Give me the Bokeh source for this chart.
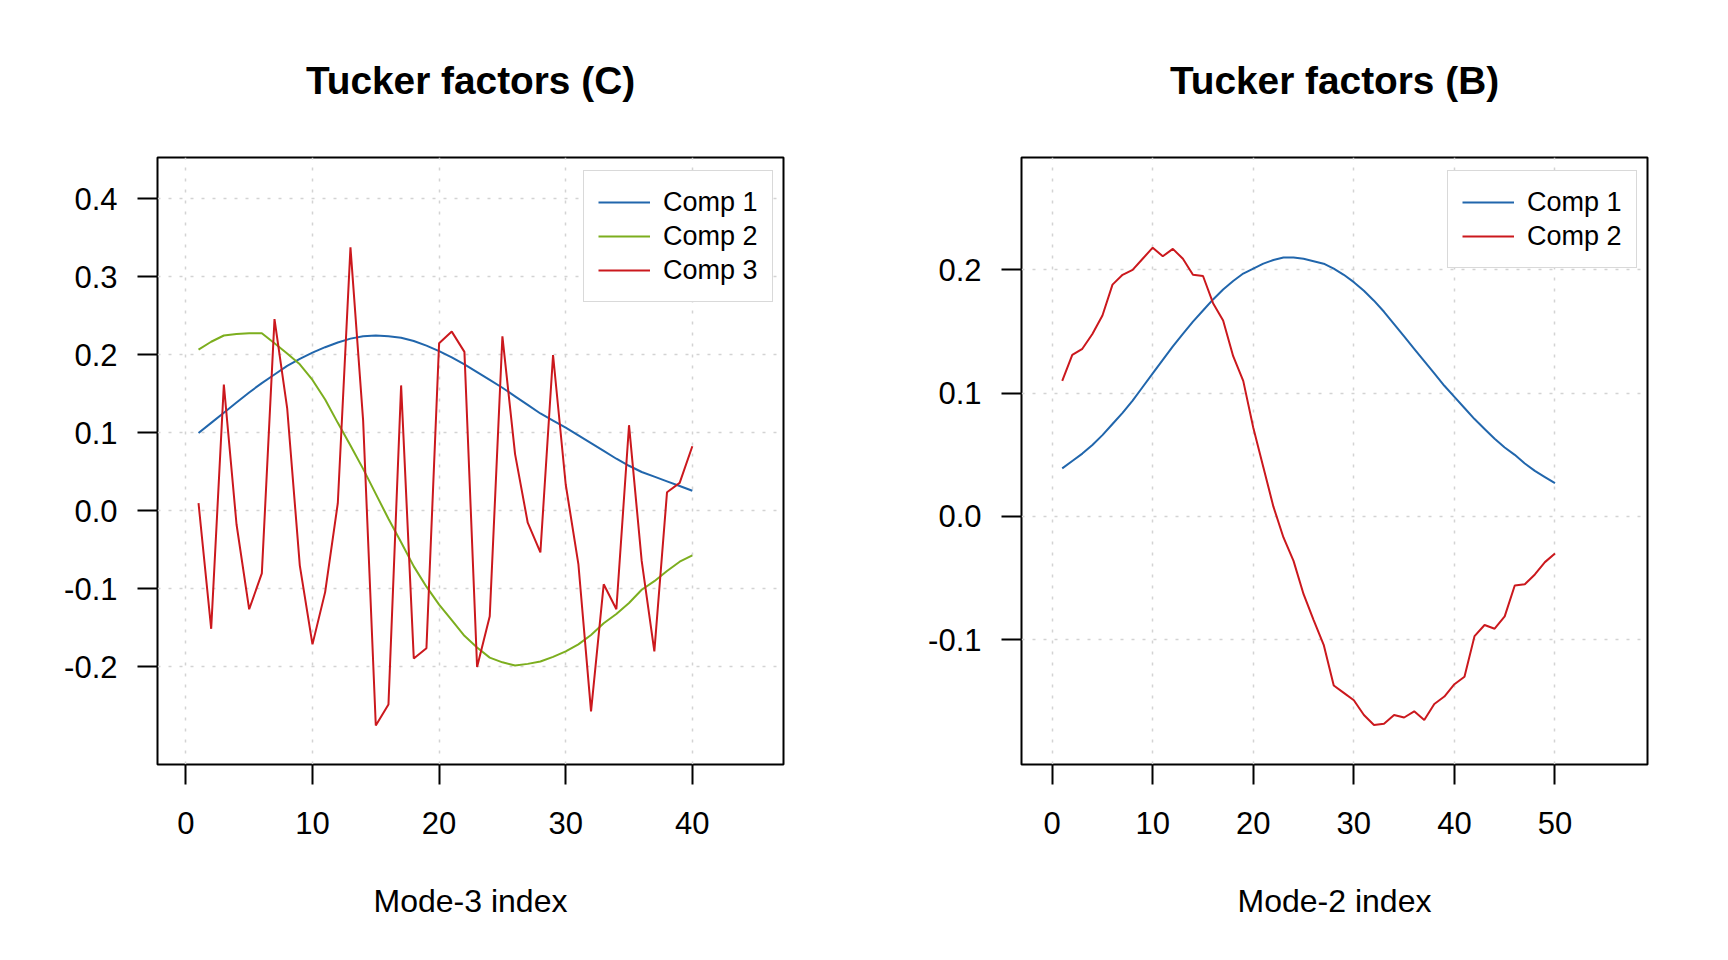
from bokeh.plotting import figure
from bokeh.layouts import row
from bokeh.models import Range1d, FixedTicker, NumeralTickFormatter, Legend, LegendItem
from bokeh.embed import file_html
from bokeh.resources import INLINE

FONT = "Liberation Sans"

# Tucker factor matrix C (mode-3, 40 rows, 3 components)
c_index = list(range(1, 41))
c_comp1 = [0.100, 0.113, 0.126, 0.139, 0.152, 0.164, 0.175, 0.186, 0.195, 0.203,
           0.210, 0.216, 0.221, 0.224, 0.225, 0.224, 0.222, 0.218, 0.212, 0.205,
           0.197, 0.188, 0.178, 0.168, 0.158, 0.147, 0.136, 0.125, 0.116, 0.107,
           0.097, 0.087, 0.077, 0.067, 0.058, 0.050, 0.044, 0.038, 0.032, 0.026]
c_comp2 = [0.207, 0.217, 0.225, 0.227, 0.228, 0.228, 0.215, 0.202, 0.188, 0.168,
           0.143, 0.113, 0.084, 0.054, 0.022, -0.010, -0.040, -0.071, -0.097, -0.120,
           -0.140, -0.160, -0.175, -0.188, -0.194, -0.198, -0.196, -0.193, -0.187, -0.180,
           -0.171, -0.159, -0.144, -0.132, -0.118, -0.101, -0.090, -0.077, -0.065, -0.057]
c_comp3 = [0.010, -0.151, 0.162, -0.017, -0.126, -0.080, 0.246, 0.132, -0.070, -0.171,
           -0.104, 0.010, 0.338, 0.116, -0.275, -0.248, 0.161, -0.189, -0.176, 0.215,
           0.230, 0.204, -0.200, -0.135, 0.224, 0.073, -0.015, -0.053, 0.200, 0.034,
           -0.068, -0.257, -0.094, -0.126, 0.110, -0.064, -0.180, 0.024, 0.036, 0.083]

# Tucker factor matrix B (mode-2, 50 rows, 2 components)
b_index = list(range(1, 51))
b_comp1 = [0.039, 0.045, 0.051, 0.058, 0.066, 0.075, 0.084, 0.094, 0.105, 0.116,
           0.127, 0.138, 0.148, 0.158, 0.167, 0.176, 0.184, 0.191, 0.197, 0.201,
           0.205, 0.208, 0.210, 0.210, 0.209, 0.207, 0.205, 0.201, 0.196, 0.190,
           0.183, 0.175, 0.166, 0.156, 0.146, 0.136, 0.126, 0.116, 0.106, 0.097,
           0.088, 0.079, 0.071, 0.063, 0.056, 0.050, 0.043, 0.037, 0.032, 0.027]
b_comp2 = [0.110, 0.131, 0.136, 0.148, 0.163, 0.188, 0.196, 0.200, 0.209, 0.218,
           0.211, 0.217, 0.209, 0.196, 0.195, 0.173, 0.159, 0.130, 0.110, 0.072,
           0.040, 0.008, -0.017, -0.036, -0.063, -0.084, -0.104, -0.137, -0.143, -0.149,
           -0.161, -0.169, -0.168, -0.161, -0.163, -0.158, -0.165, -0.152, -0.146, -0.136,
           -0.130, -0.097, -0.088, -0.091, -0.081, -0.056, -0.055, -0.047, -0.037, -0.030]

c_xticks = [0, 10, 20, 30, 40]
c_yticks = [-0.2, -0.1, 0.0, 0.1, 0.2, 0.3, 0.4]
b_xticks = [0, 10, 20, 30, 40, 50]
b_yticks = [-0.1, 0.0, 0.1, 0.2]

BLUE = "#2166ac"
GREEN = "#7cae1e"
RED = "#cb181d"


def panel(title, xlabel, xr, yr, xticks, yticks, left, right):
    p = figure(frame_width=626, frame_height=607,
               min_border_left=left, min_border_right=right,
               min_border_top=157, min_border_bottom=180,
               x_range=Range1d(*xr), y_range=Range1d(*yr),
               title=title, output_backend="svg", toolbar_location=None)
    p.title.align = "center"
    p.title.text_font = FONT
    p.title.text_font_size = "38.8px"
    p.title.text_font_style = "bold"
    p.title.text_color = "black"
    p.title.standoff = 112
    p.outline_line_color = "black"
    p.outline_line_width = 2
    p.outline_line_alpha = 1

    p.xaxis.ticker = FixedTicker(ticks=xticks)
    p.yaxis.ticker = FixedTicker(ticks=yticks)
    p.yaxis.formatter = NumeralTickFormatter(format="0.0")
    p.xaxis.axis_label = xlabel
    for ax in (p.xaxis, p.yaxis):
        ax.axis_line_color = None
        ax.major_tick_out = 20
        ax.major_tick_in = 0
        ax.major_tick_line_width = 2
        ax.major_tick_line_color = "black"
        ax.minor_tick_line_color = None
        ax.major_label_text_font = FONT
        ax.major_label_text_font_size = "31px"
        ax.major_label_text_color = "black"
        ax.major_label_standoff = 20
    p.xaxis.major_label_standoff = 27
    p.xaxis.axis_label_text_font = FONT
    p.xaxis.axis_label_text_font_size = "32px"
    p.xaxis.axis_label_text_font_style = "normal"
    p.xaxis.axis_label_text_color = "black"
    p.xaxis.axis_label_standoff = 46
    p.yaxis.major_label_orientation = "horizontal"

    for g in (p.xgrid, p.ygrid):
        g.grid_line_color = "#d3d3d3"
        g.grid_line_dash = "3 8"
        g.grid_line_width = 1.5
    return p


def add_legend(p, renderers, labels, bottom):
    items = [LegendItem(label=l, renderers=[r]) for l, r in zip(labels, renderers)]
    leg = Legend(items=items, location=(426, bottom), margin=0, padding=14,
                 spacing=0, glyph_width=52, glyph_height=34, label_height=34,
                 label_standoff=13, label_text_font=FONT,
                 label_text_font_size="27px", label_text_color="black",
                 border_line_color="#b3b3b3", border_line_width=1.5,
                 background_fill_color="white", background_fill_alpha=1)
    p.add_layout(leg)


p1 = panel("Tucker factors (C)", "Mode-3 index", (-2.24, 47.2), (-0.325, 0.4532),
           c_xticks, c_yticks, 157, 81)
r11 = p1.line(c_index, c_comp1, color=BLUE, line_width=2)
r12 = p1.line(c_index, c_comp2, color=GREEN, line_width=2)
r13 = p1.line(c_index, c_comp3, color=RED, line_width=2)
add_legend(p1, [r11, r12, r13], ["Comp 1", "Comp 2", "Comp 3"], 462)

p2 = panel("Tucker factors (B)", "Mode-2 index", (-3.05, 59.2), (-0.2011, 0.2911),
           b_xticks, b_yticks, 157, 73)
r21 = p2.line(b_index, b_comp1, color=BLUE, line_width=2)
r22 = p2.line(b_index, b_comp2, color=RED, line_width=2)
add_legend(p2, [r21, r22], ["Comp 1", "Comp 2"], 496)

layout = row(p1, p2)
open("out.html", "w").write(file_html(layout, INLINE))
